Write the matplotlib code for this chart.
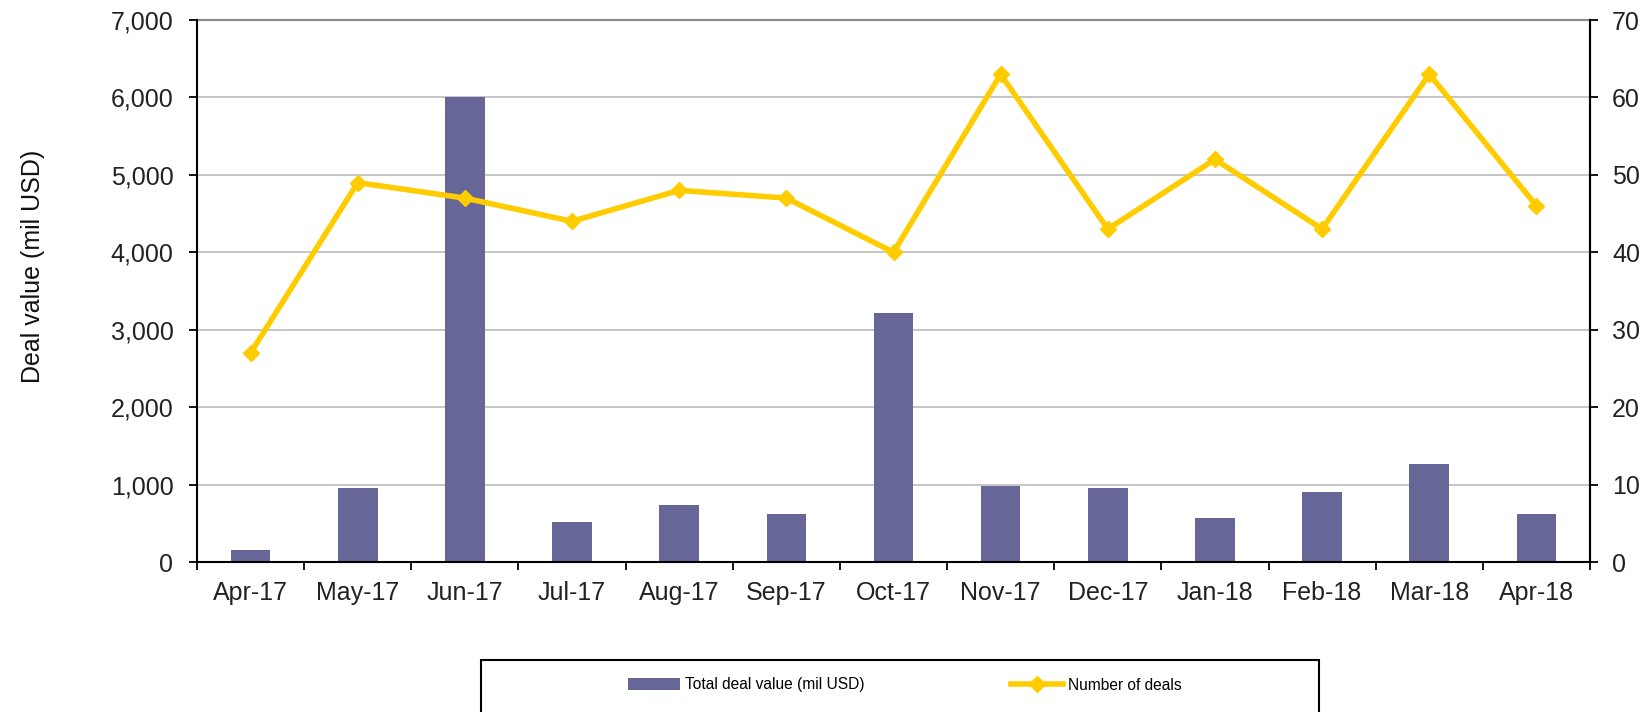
import matplotlib
matplotlib.use("Agg")
import matplotlib.pyplot as plt
from matplotlib.ticker import FuncFormatter, FixedLocator
from matplotlib.patches import Rectangle
import numpy as np

plt.rcParams['font.family'] = ['Liberation Sans', 'DejaVu Sans']

months = ["Apr-17", "May-17", "Jun-17", "Jul-17", "Aug-17", "Sep-17", "Oct-17",
          "Nov-17", "Dec-17", "Jan-18", "Feb-18", "Mar-18", "Apr-18"]
deal_value = [160, 960, 6000, 520, 730, 620, 3210, 980, 960, 570, 905, 1265, 620]
num_deals = [27, 49, 47, 44, 48, 47, 40, 63, 43, 52, 43, 63, 46]

bar_color = "#666699"
line_color = "#FFCC00"
fs = 18

fig = plt.figure(figsize=(16.48, 7.12), dpi=100)
ax = fig.add_axes([197/1648, 1 - 562/712, (1590-197)/1648, (562-20)/712])

x = np.arange(len(months))
ax.bar(x, deal_value, width=0.37, color=bar_color, zorder=2, label="Total deal value (mil USD)")
ax.set_xlim(-0.5, len(months) - 0.5)
ax.set_ylim(0, 7000)
ax.set_yticks(np.arange(0, 7001, 1000))
ax.yaxis.set_major_formatter(FuncFormatter(lambda v, p: f"{int(v):,}"))
ax.grid(axis='y', color='#C0C0C0', linewidth=1.3, zorder=0)
ax.axhline(7000, color='#8A8A8A', linewidth=1.5, zorder=1, clip_on=False)
ax.set_axisbelow(True)
ax.set_xticks(x)
ax.set_xticklabels(months)
ax.xaxis.set_minor_locator(FixedLocator(np.arange(-0.5, len(months), 1.0)))
ax.tick_params(axis='x', which='major', length=0, pad=14, labelsize=fs, colors='#222222')
ax.tick_params(axis='x', which='minor', length=6, width=1.3, direction='out', color='black')
ax.tick_params(axis='y', length=6, width=1.3, direction='out', pad=11, labelsize=fs, labelcolor='#222222')
ax.set_ylabel("Deal value (mil USD)", fontsize=fs, color='#111111')
ax.yaxis.set_label_coords(-0.109, 0.546)
for s in ['left', 'bottom', 'right']:
    ax.spines[s].set_linewidth(1.5)
    ax.spines[s].set_color('black')
ax.spines['top'].set_visible(False)

ax2 = ax.twinx()
ax2.plot(x, num_deals, color=line_color, linewidth=4, marker='D', markersize=8,
         zorder=3, label="Number of deals")
ax2.set_ylim(0, 70)
ax2.set_yticks(np.arange(0, 71, 10))
ax2.tick_params(axis='y', length=6, width=1.3, direction='out', pad=10, labelsize=fs, labelcolor='#222222')
ax2.spines['top'].set_visible(False)
ax2.spines['right'].set_linewidth(1.5)
ax2.spines['left'].set_visible(False)
ax2.spines['bottom'].set_visible(False)

# Legend box
fig.patches.append(Rectangle((481/1648, -0.02), (1319-481)/1648, 0.02 + 1 - 660/712,
                             transform=fig.transFigure, fill=False, edgecolor='black',
                             linewidth=1.5))
h1, l1 = ax.get_legend_handles_labels()
h2, l2 = ax2.get_legend_handles_labels()
leg = fig.legend(h1 + h2, l1 + l2, loc='center', bbox_to_anchor=(0.549, 1 - 685/712),
                 ncol=2, frameon=False, fontsize=11.2, handlelength=3.35, handleheight=0.85,
                 handletextpad=0.3, columnspacing=9.4)

fig.savefig("out.png", dpi=100)
